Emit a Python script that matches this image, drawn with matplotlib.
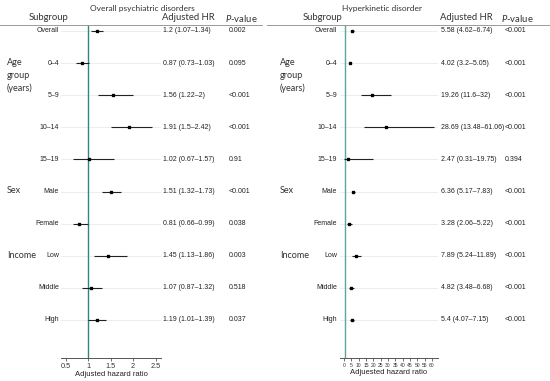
import numpy as np
import matplotlib
matplotlib.use('Agg')
import matplotlib.pyplot as plt

# data
subgroups = ['Overall', '0\u20134', '5\u20139', '10\u201314', '15\u201319',
             'Male', 'Female', 'Low', 'Middle', 'High']
groups = [('Age\ngroup\n(years)', 1), ('Sex', 5), ('Income', 7)]

psy_hr = [1.2, 0.87, 1.56, 1.91, 1.02, 1.51, 0.81, 1.45, 1.07, 1.19]
psy_lo = [1.07, 0.73, 1.22, 1.5, 0.67, 1.32, 0.66, 1.13, 0.87, 1.01]
psy_hi = [1.34, 1.03, 2, 2.42, 1.57, 1.73, 0.99, 1.86, 1.32, 1.39]
psy_p = ['0.002', '0.095', '<0.001', '<0.001', '0.91', '<0.001',
         '0.038', '0.003', '0.518', '0.037']

hk_hr = [5.58, 4.02, 19.26, 28.69, 2.47, 6.36, 3.28, 7.89, 4.82, 5.4]
hk_lo = [4.62, 3.2, 11.6, 13.48, 0.31, 5.17, 2.06, 5.24, 3.48, 4.07]
hk_hi = [6.74, 5.05, 32, 61.06, 19.75, 7.83, 5.22, 11.89, 6.68, 7.15]
hk_p = ['<0.001', '<0.001', '<0.001', '<0.001', '0.394', '<0.001',
        '<0.001', '<0.001', '<0.001', '<0.001']

psy_ticks = [0.5, 1, 1.5, 2, 2.5]
hk_ticks = list(range(0, 61, 5))

W, H = 550, 381
plt.rcParams['mathtext.fontset'] = 'custom'
plt.rcParams['mathtext.it'] = 'Lato:italic'
plt.rcParams['mathtext.rm'] = 'Lato'
fig = plt.figure(figsize=(W / 100, H / 100), dpi=100)

HEAD = 'Lato'
SMALL = 'Liberation Sans'
ROW0, ROWSTEP = 31, 32.1
TOP, BOT = 25, 358


def fx(x):
    return x / W


def fy(y):
    return 1 - y / H


def row_y(i):
    return ROW0 + i * ROWSTEP


def panel(title, xlim_px, xlim, ticks, tick_fs, xlabel,
          hr, lo, hi, pvals, line_px, label_x, group_x, hr_x, p_x,
          sub_c, title_c, teal):
    # axes in pixel layout
    l, r = xlim_px
    ax = fig.add_axes([fx(l), fy(BOT), (r - l) / W, (BOT - TOP) / H])
    n = len(hr)
    ax.set_ylim((BOT - ROW0) / ROWSTEP, (TOP - ROW0) / ROWSTEP)
    ax.set_xlim(*xlim)
    ax.patch.set_alpha(0)
    y = np.arange(n)
    for i in range(n):
        ax.axhline(i, color='#e4ecec', lw=0.6, zorder=0)
    ax.axvline(1, color=teal, lw=1.0, zorder=1)
    ax.hlines(y, lo, hi, color='#222222', lw=0.8, zorder=2)
    ax.plot(hr, y, 's', color='black', ms=2.0, zorder=3)
    for s in ['top', 'left', 'right']:
        ax.spines[s].set_visible(False)
    ax.spines['bottom'].set_color('#555555')
    ax.spines['bottom'].set_linewidth(0.7)
    ax.set_yticks([])
    ax.set_xticks(ticks)
    ax.set_xticklabels([f'{t:g}' for t in ticks], fontsize=tick_fs,
                       family=SMALL, color='#333333')
    ax.tick_params(axis='x', length=2.5, width=0.6, color='#555555', pad=1)
    ax.set_xlabel(xlabel, fontsize=5.5, family=SMALL, color='#222222',
                  labelpad=0.5)

    # header
    fig.text(fx(title_c), fy(8), title, fontsize=6.0, family=HEAD,
             color='#333333', ha='center', va='center')
    fig.text(fx(sub_c), fy(18), 'Subgroup', fontsize=6.8, family=HEAD,
             color='#333333', ha='center', va='center')
    fig.text(fx(hr_x - 1), fy(18), 'Adjusted HR', fontsize=6.8, family=HEAD,
             color='#333333', ha='left', va='center')
    fig.text(fx(p_x - 4), fy(18), '$P$-value', fontsize=6.8, family=HEAD,
             color='#333333', ha='left', va='center')
    fig.add_artist(plt.Line2D([fx(line_px[0]), fx(line_px[1])],
                              [fy(TOP), fy(TOP)], color='#999999', lw=0.7))

    # rows
    for i in range(n):
        yy = fy(row_y(i))
        fig.text(fx(label_x), yy, subgroups[i], fontsize=5.0, family=SMALL,
                 color='#222222', ha='right', va='center')
        txt = f'{hr[i]:g} ({lo[i]:g}\u2013{hi[i]:g})'
        fig.text(fx(hr_x), yy, txt, fontsize=5.0, family=SMALL,
                 color='#222222', ha='left', va='center')
        fig.text(fx(p_x), yy, pvals[i], fontsize=5.0, family=SMALL,
                 color='#222222', ha='left', va='center')
    for name, i in groups:
        fig.text(fx(group_x), fy(row_y(i) - 5), name, fontsize=6.5,
                 family=HEAD, color='#333333', ha='left', va='top',
                 linespacing=1.5)


# Overall psychiatric disorders
panel('Overall psychiatric disorders', (61, 161), (0.4, 2.62),
      psy_ticks, 5.3, 'Adjusted hazard ratio',
      psy_hr, psy_lo, psy_hi, psy_p, (0, 262),
      59, 7, 163, 229, 49, 142, '#2e8877')

# Hyperkinetic disorder
panel('Hyperkinetic disorder', (340, 438), (-2.7, 64.1),
      hk_ticks, 3.6, 'Adjuested hazard ratio',
      hk_hr, hk_lo, hk_hi, hk_p, (267, 550),
      337, 280, 441, 505, 323, 382, '#5aa89c')

fig.savefig('out.png', dpi=100)
